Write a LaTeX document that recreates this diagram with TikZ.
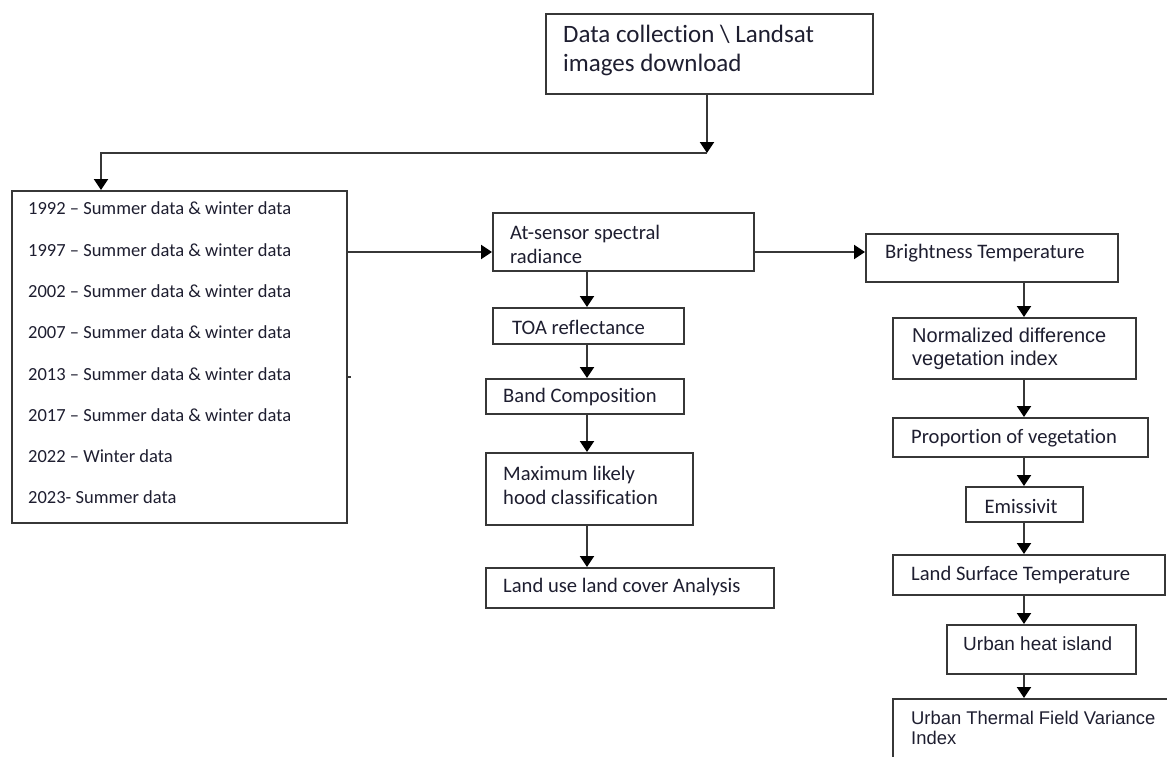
\documentclass[tikz,border=0pt]{standalone}
\usepackage{fontspec}
\setmainfont{Carlito}[Ligatures={TeX,NoCommon}]
\newfontfamily\arialf{Liberation Sans}
\usetikzlibrary{arrows.meta,calc}
\definecolor{txtc}{RGB}{30,30,48}
\definecolor{linec}{RGB}{55,55,55}
\begin{document}
\begin{tikzpicture}[x=1pt,y=-1pt,
  flowbox/.style={draw=linec, line width=2pt, rectangle, anchor=north west, inner sep=0pt},
  txt/.style={text=txtc, anchor=west, align=left, inner sep=0pt},
  cal/.style={font=\fontsize{20.6}{24}\selectfont},
  arr/.style={draw=linec, line width=2pt, -{Triangle[width=14pt,length=11pt,color=black]}},
  ln/.style={draw=linec, line width=2pt}]
\clip (0,0) rectangle (1167,756);
\fill[white] (0,0) rectangle (1167,756);

% top box
\node[flowbox, minimum width=327, minimum height=80] (data) at (545,13) {};
\node[txt, font=\fontsize{25}{29}\selectfont] (datat) at (563,50) {Data collection \textbackslash{} Landsat\\images download};

% years box
\node[flowbox, minimum width=335, minimum height=332] (years) at (11,190) {};
\node[txt, font=\fontsize{18.5}{41.3}\selectfont] (yearst) at (28,353) {1992 – Summer data \& winter data\\1997 – Summer data \& winter data\\2002 – Summer data \& winter data\\2007 – Summer data \& winter data\\2013 – Summer data \& winter data\\2017 – Summer data \& winter data\\2022 – Winter data\\2023- Summer data};

% middle column
\node[flowbox, minimum width=261, minimum height=58] (asr) at (492,212) {};
\node[txt, cal] (asrt) at (510,244) {At-sensor spectral\\radiance};
\node[flowbox, minimum width=191, minimum height=36] (toa) at (492,307) {};
\node[txt, cal] (toat) at (512,327) {TOA reflectance};
\node[flowbox, minimum width=198, minimum height=35] (band) at (485,378) {};
\node[txt, cal] (bandt) at (503,397) {Band Composition};
\node[flowbox, minimum width=207, minimum height=72] (max) at (485,452) {};
\node[txt, cal] (maxt) at (503,485) {Maximum likely\\hood classification};
\node[flowbox, minimum width=288, minimum height=40] (lulc) at (485,567) {};
\node[txt, cal] (lulct) at (503,587) {Land use land cover Analysis};

% right column
\node[flowbox, minimum width=252, minimum height=48] (bt) at (865,233) {};
\node[txt, cal] (btt) at (885,253) {Brightness Temperature};
\node[flowbox, minimum width=243, minimum height=61] (ndvi) at (892,317) {};
\node[txt, font=\arialf\fontsize{20}{23}\selectfont] (ndvit) at (912,349) {Normalized difference\\vegetation index};
\node[flowbox, minimum width=255, minimum height=39] (pv) at (892,417) {};
\node[txt, cal] (pvt) at (911,438) {Proportion of vegetation};
\node[flowbox, minimum width=117, minimum height=35] (em) at (965,486) {};
\node[txt, cal, anchor=center] (emt) at (1021,506) {Emissivit};
\node[flowbox, minimum width=272, minimum height=40] (lst) at (892,554) {};
\node[txt, cal] (lstt) at (911,575) {Land Surface Temperature};
\node[flowbox, minimum width=189, minimum height=49] (uhi) at (946,624) {};
\node[txt, font=\arialf\fontsize{19}{22}\selectfont] (uhit) at (963,644) {Urban heat island};
\node[flowbox, minimum width=300, minimum height=60] (utfvi) at (892,698) {};
\node[txt, font=\arialf\fontsize{18.4}{20}\selectfont] (utfvit) at (911,728) {Urban Thermal Field Variance\\Index};

% connectors
\coordinate (j1) at (707,153);
\coordinate (j2) at (101,153);
\draw[arr] (data.south -| j1) -- (j1);
\draw[arr] (j1) -- (j2) -- (j2 |- years.north);
\coordinate (h1) at (0,252);
\draw[arr] (years.east |- h1) -- (asr.west |- h1);
\draw[arr] (asr.east |- h1) -- (bt.west |- h1);
\coordinate (tk) at (0,377);
\draw[ln, line width=1.2pt] (years.east |- tk) -- ++(3,0);

\coordinate (mx) at (587,0);
\draw[arr] (asr.south -| mx) -- (toa.north -| mx);
\draw[arr] (toa.south -| mx) -- (band.north -| mx);
\draw[arr] (band.south -| mx) -- (max.north -| mx);
\draw[arr] (max.south -| mx) -- (lulc.north -| mx);

\coordinate (rx) at (1024,0);
\draw[arr] (bt.south -| rx) -- (ndvi.north -| rx);
\draw[arr] (ndvi.south -| rx) -- (pv.north -| rx);
\draw[arr] (pv.south -| rx) -- (em.north -| rx);
\draw[arr] (em.south -| rx) -- (lst.north -| rx);
\draw[arr] (lst.south -| rx) -- (uhi.north -| rx);
\draw[arr] (uhi.south -| rx) -- (utfvi.north -| rx);
\end{tikzpicture}
\end{document}
